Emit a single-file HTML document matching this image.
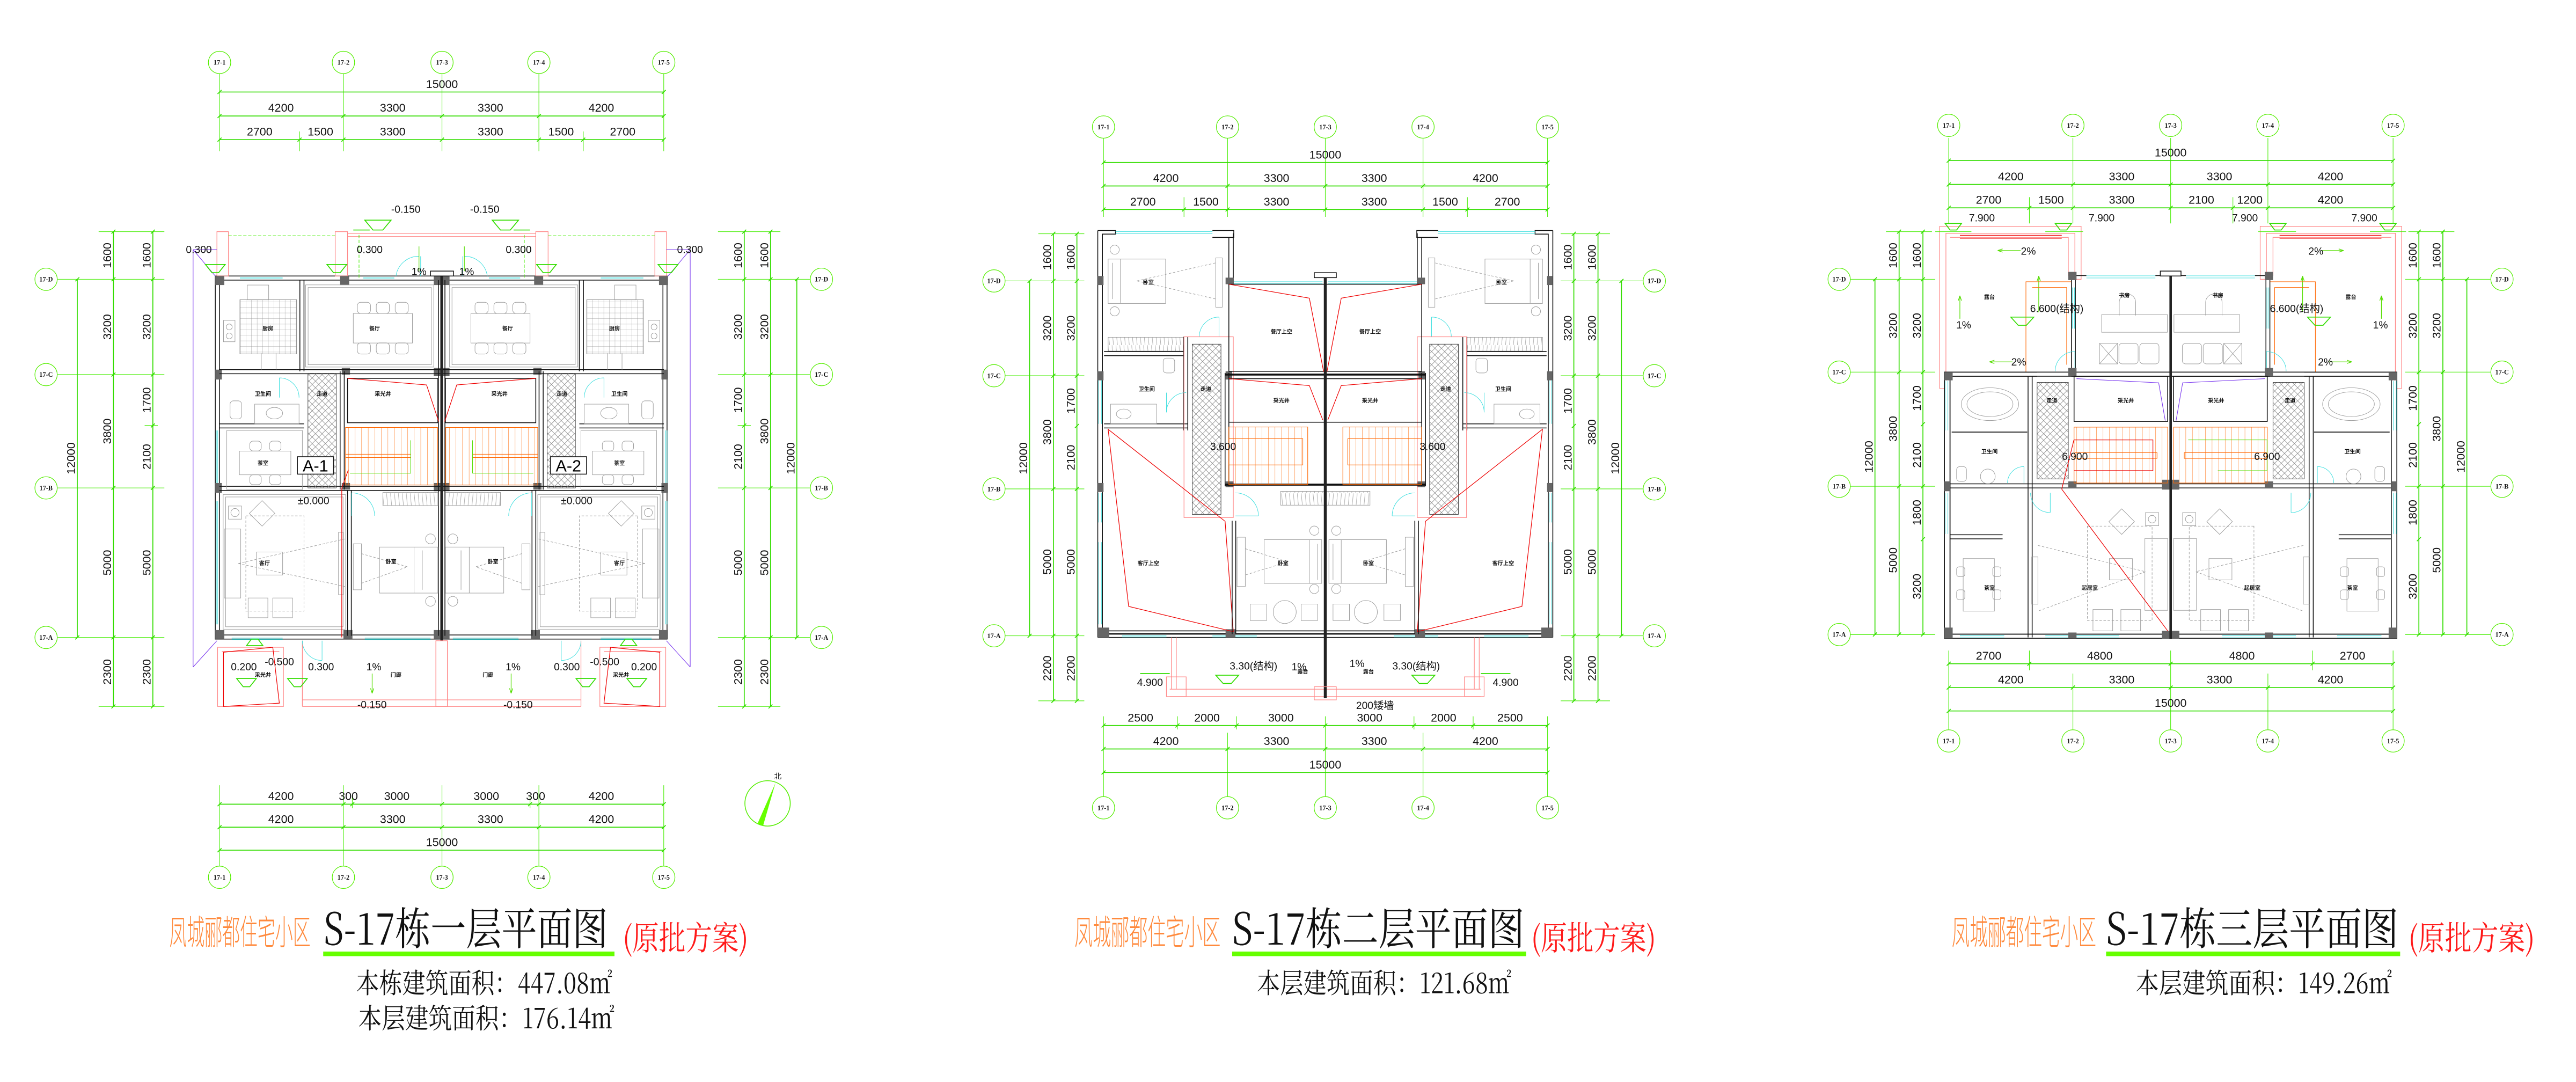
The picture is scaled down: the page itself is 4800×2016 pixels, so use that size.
<!DOCTYPE html>
<html><head><meta charset="utf-8"><style>
html,body{margin:0;padding:0;background:#fff}
svg{display:block}
.g{stroke:#44ee00;stroke-width:.35;fill:none}
.gd{stroke:#33dd00;stroke-width:.55;fill:none}
.bb{fill:#fff;stroke:#55ee00;stroke-width:.4}
.bt{font:bold 4px "Liberation Serif",serif;text-anchor:middle;fill:#111}
.d{font:7px "Liberation Sans Narrow","Liberation Sans",sans-serif;text-anchor:middle;fill:#111}
.e{font:6.3px "Liberation Sans Narrow","Liberation Sans",sans-serif;text-anchor:middle;fill:#111}
.w{stroke:#111;stroke-width:.5;fill:none}
.wf{stroke:#111;stroke-width:.5;fill:#fff}
.p{stroke:#f88;stroke-width:.4;fill:none}
.r{stroke:#e00;stroke-width:.4;fill:none}
.c{stroke:#3dd;stroke-width:.3;fill:none}
.f{stroke:#999;stroke-width:.3;fill:none}
.fd{stroke:#999;stroke-width:.3;fill:none;stroke-dasharray:1.5 1}
.o{stroke:#f60;stroke-width:.35;fill:none}
.pu{stroke:#7733ee;stroke-width:.35;fill:none}
.col{fill:#666}
.lb{font:bold 3.3px "Noto Sans CJK SC",sans-serif;text-anchor:middle;fill:#111}
</style></head><body>
<svg width="4800" height="2016" viewBox="0 0 1568 658.6" xmlns="http://www.w3.org/2000/svg">
<defs>
<pattern id="xh" width="4" height="4" patternUnits="userSpaceOnUse"><path d="M0 0L4 4M4 0L0 4" stroke="#777" stroke-width=".25"/></pattern>
<pattern id="tile" width="3.4" height="3.4" patternUnits="userSpaceOnUse"><path d="M0 0H3.4M0 0V3.4" stroke="#888" stroke-width=".25"/></pattern>
<pattern id="st" width="4" height="40" patternUnits="userSpaceOnUse"><path d="M0 0V40" stroke="#f60" stroke-width=".35"/></pattern>
<pattern id="wr" width="2.4" height="10" patternUnits="userSpaceOnUse"><path d="M0 0L1 10" stroke="#999" stroke-width=".25"/></pattern>
</defs>
<rect width="1568" height="658.6" fill="#fff"/>

<!-- ================= PLAN 1 ================= -->
<g>
<path class="g" d="M133.6 45V92M209 45V92M269 45V92M328 45V92M404 45V92M182.3 80V92M355 80V92"/>
<path class="gd" d="M133.6 56H404M133.6 70.6H404M133.6 85H404"/>
<path class="gd" d="M132.4 57.2l2.4-2.4M402.8 57.2l2.4-2.4M132.4 71.8l2.4-2.4M207.8 71.8l2.4-2.4M267.8 71.8l2.4-2.4M326.8 71.8l2.4-2.4M402.8 71.8l2.4-2.4M132.4 86.2l2.4-2.4M181.1 86.2l2.4-2.4M207.8 86.2l2.4-2.4M267.8 86.2l2.4-2.4M326.8 86.2l2.4-2.4M353.8 86.2l2.4-2.4M402.8 86.2l2.4-2.4"/>
<text class="d" x="269" y="53.5">15000</text>
<text class="d" x="171" y="68">4200</text><text class="d" x="239" y="68">3300</text><text class="d" x="298.5" y="68">3300</text><text class="d" x="366" y="68">4200</text>
<text class="d" x="158" y="82.5">2700</text><text class="d" x="195" y="82.5">1500</text><text class="d" x="239" y="82.5">3300</text><text class="d" x="298.5" y="82.5">3300</text><text class="d" x="341.5" y="82.5">1500</text><text class="d" x="379" y="82.5">2700</text>
<circle class="bb" cx="133.6" cy="38" r="6.8"/><text class="bt" x="133.6" y="39.4">17-1</text>
<circle class="bb" cx="209" cy="38" r="6.8"/><text class="bt" x="209" y="39.4">17-2</text>
<circle class="bb" cx="269" cy="38" r="6.8"/><text class="bt" x="269" y="39.4">17-3</text>
<circle class="bb" cx="328" cy="38" r="6.8"/><text class="bt" x="328" y="39.4">17-4</text>
<circle class="bb" cx="404" cy="38" r="6.8"/><text class="bt" x="404" y="39.4">17-5</text>
<path class="g" d="M133.6 478V527M209 478V527M269 478V527M328 478V527M404 478V527M214.4 484V492M322.6 484V492"/>
<path class="gd" d="M133.6 489.5H404M133.6 503.5H404M133.6 517.5H404"/>
<path class="gd" d="M132.4 490.7l2.4-2.4M207.8 490.7l2.4-2.4M213.2 490.7l2.4-2.4M267.8 490.7l2.4-2.4M321.4 490.7l2.4-2.4M326.8 490.7l2.4-2.4M402.8 490.7l2.4-2.4M132.4 504.7l2.4-2.4M207.8 504.7l2.4-2.4M267.8 504.7l2.4-2.4M326.8 504.7l2.4-2.4M402.8 504.7l2.4-2.4M132.4 518.7l2.4-2.4M402.8 518.7l2.4-2.4"/>
<text class="d" x="171" y="487">4200</text><text class="d" x="212" y="487">300</text><text class="d" x="241.5" y="487">3000</text><text class="d" x="296" y="487">3000</text><text class="d" x="326" y="487">300</text><text class="d" x="366" y="487">4200</text>
<text class="d" x="171" y="501">4200</text><text class="d" x="239" y="501">3300</text><text class="d" x="298.5" y="501">3300</text><text class="d" x="366" y="501">4200</text>
<text class="d" x="269" y="515">15000</text>
<circle class="bb" cx="133.6" cy="534" r="6.8"/><text class="bt" x="133.6" y="535.4">17-1</text>
<circle class="bb" cx="209" cy="534" r="6.8"/><text class="bt" x="209" y="535.4">17-2</text>
<circle class="bb" cx="269" cy="534" r="6.8"/><text class="bt" x="269" y="535.4">17-3</text>
<circle class="bb" cx="328" cy="534" r="6.8"/><text class="bt" x="328" y="535.4">17-4</text>
<circle class="bb" cx="404" cy="534" r="6.8"/><text class="bt" x="404" y="535.4">17-5</text>
<path class="g" d="M35 170H100M35 228H100M35 297H100M35 388H100M60 141H100M60 430H100M88 259H96"/>
<path class="gd" d="M47 170V388M69 141V430M93 141V430"/>
<path class="gd" d="M45.8 171.2l2.4-2.4M45.8 389.2l2.4-2.4M67.8 142.2l2.4-2.4M67.8 171.2l2.4-2.4M67.8 229.2l2.4-2.4M67.8 298.2l2.4-2.4M67.8 389.2l2.4-2.4M67.8 431.2l2.4-2.4M91.8 142.2l2.4-2.4M91.8 171.2l2.4-2.4M91.8 229.2l2.4-2.4M91.8 260.2l2.4-2.4M91.8 298.2l2.4-2.4M91.8 389.2l2.4-2.4M91.8 431.2l2.4-2.4"/>
<text class="d" transform="translate(45.6 279) rotate(-90)">12000</text>
<text class="d" transform="translate(67.6 155.5) rotate(-90)">1600</text><text class="d" transform="translate(67.6 199) rotate(-90)">3200</text><text class="d" transform="translate(67.6 262.5) rotate(-90)">3800</text><text class="d" transform="translate(67.6 342.5) rotate(-90)">5000</text><text class="d" transform="translate(67.6 409) rotate(-90)">2300</text>
<text class="d" transform="translate(91.6 155.5) rotate(-90)">1600</text><text class="d" transform="translate(91.6 199) rotate(-90)">3200</text><text class="d" transform="translate(91.6 243.5) rotate(-90)">1700</text><text class="d" transform="translate(91.6 278) rotate(-90)">2100</text><text class="d" transform="translate(91.6 342.5) rotate(-90)">5000</text><text class="d" transform="translate(91.6 409) rotate(-90)">2300</text>
<circle class="bb" cx="28" cy="170" r="6.8"/><text class="bt" x="28" y="171.4">17-D</text>
<circle class="bb" cx="28" cy="228" r="6.8"/><text class="bt" x="28" y="229.4">17-C</text>
<circle class="bb" cx="28" cy="297" r="6.8"/><text class="bt" x="28" y="298.4">17-B</text>
<circle class="bb" cx="28" cy="388" r="6.8"/><text class="bt" x="28" y="389.4">17-A</text>
<path class="g" d="M437 170H493M437 228H493M437 297H493M437 388H493M437 141H475M437 430H475M449 259H457"/>
<path class="gd" d="M453 141V430M469 141V430M485 170V388"/>
<path class="gd" d="M451.8 142.2l2.4-2.4M451.8 171.2l2.4-2.4M451.8 229.2l2.4-2.4M451.8 260.2l2.4-2.4M451.8 298.2l2.4-2.4M451.8 389.2l2.4-2.4M451.8 431.2l2.4-2.4M467.8 142.2l2.4-2.4M467.8 171.2l2.4-2.4M467.8 229.2l2.4-2.4M467.8 298.2l2.4-2.4M467.8 389.2l2.4-2.4M467.8 431.2l2.4-2.4M483.8 171.2l2.4-2.4M483.8 389.2l2.4-2.4"/>
<text class="d" transform="translate(451.6 155.5) rotate(-90)">1600</text><text class="d" transform="translate(451.6 199) rotate(-90)">3200</text><text class="d" transform="translate(451.6 243.5) rotate(-90)">1700</text><text class="d" transform="translate(451.6 278) rotate(-90)">2100</text><text class="d" transform="translate(451.6 342.5) rotate(-90)">5000</text><text class="d" transform="translate(451.6 409) rotate(-90)">2300</text>
<text class="d" transform="translate(467.6 155.5) rotate(-90)">1600</text><text class="d" transform="translate(467.6 199) rotate(-90)">3200</text><text class="d" transform="translate(467.6 262.5) rotate(-90)">3800</text><text class="d" transform="translate(467.6 342.5) rotate(-90)">5000</text><text class="d" transform="translate(467.6 409) rotate(-90)">2300</text>
<text class="d" transform="translate(483.6 279) rotate(-90)">12000</text>
<circle class="bb" cx="500" cy="170" r="6.8"/><text class="bt" x="500" y="171.4">17-D</text>
<circle class="bb" cx="500" cy="228" r="6.8"/><text class="bt" x="500" y="229.4">17-C</text>
<circle class="bb" cx="500" cy="297" r="6.8"/><text class="bt" x="500" y="298.4">17-B</text>
<circle class="bb" cx="500" cy="388" r="6.8"/><text class="bt" x="500" y="389.4">17-A</text>

<rect class="wf" x="131" y="168" width="275" height="221"/>
<rect class="w" x="133.5" y="170.5" width="270" height="216"/>
<g id="p1h">
<path class="p" d="M132 141h7v27h-7zM204 141h7.5v27h-7.5zM211.5 142H268.8M211.5 144H268.8"/>
<path class="g" stroke-dasharray="2 1" d="M139 143.5H204M218.5 143V170"/>
<path class="pu" d="M117.5 152H132M117.5 152L131 168M117.5 152V406M117.5 406L132 390"/>
<path class="gd" d="M125 161h12l-4 5h-4zM199 161h12l-4 5h-4zM222 134h16l-5 6h-6zM215 140h10"/>
<path class="c" d="M146 168.7H172M146 169.6H172M221 168.7H240M221 169.6H240M131.6 262V296M132.5 262V296M131.6 305V380M132.5 305V380M141 389.3H172M141 388.4H172M222 389.3H262M222 388.4H262"/>
<path class="c" d="M241 168A14 14 0 0 1 255 156M256 168V156"/>
<rect class="col" x="131" y="168" width="5.5" height="5.5"/><rect class="col" x="207" y="168" width="5.5" height="5.5"/><rect class="col" x="264" y="168" width="4.8" height="5.5"/>
<rect class="col" x="131" y="383.5" width="5.5" height="5.5"/><rect class="col" x="209" y="383.5" width="5.5" height="5.5"/><rect class="col" x="264" y="383.5" width="4.8" height="5.5"/>
<rect class="col" x="131" y="225" width="4" height="6"/><rect class="col" x="131" y="294" width="4" height="6"/><rect class="col" x="208" y="224" width="5" height="4"/><rect class="col" x="208" y="294" width="5" height="4"/><rect class="col" x="264" y="294" width="4.8" height="5"/><rect class="col" x="264" y="224" width="4.8" height="5"/>
<path class="w" d="M182.5 170.5V226M185 170.5V226M133.5 225H268M133.5 227.5H268M133.5 258H185M133.5 260.5H185M207 226V298M209.5 226V298M133.5 296H268M133.5 298.5H268M211.5 298.5V387M213.8 298.5V387M266.8 170.5V387"/>
<rect x="146" y="182.4" width="34.5" height="33" fill="url(#tile)" stroke="#888" stroke-width=".3"/>
<rect class="f" x="150.5" y="173.5" width="13" height="9"/><rect class="f" x="136" y="195" width="7" height="13"/><circle class="f" cx="139.5" cy="199" r="1.8"/><circle class="f" cx="139.5" cy="204.5" r="1.8"/>
<path class="f" d="M159 215V225M168 215V225"/>
<rect class="f" x="186" y="173.4" width="78" height="50"/><rect class="f" x="187.5" y="175" width="75" height="47"/>
<rect class="f" x="215" y="190.8" width="36" height="18"/>
<rect class="f" x="217.5" y="184" width="8" height="6.8" rx="2"/><rect class="f" x="229" y="184" width="8" height="6.8" rx="2"/><rect class="f" x="240.5" y="184" width="8" height="6.8" rx="2"/>
<rect class="f" x="217.5" y="208.7" width="8" height="6.8" rx="2"/><rect class="f" x="229" y="208.7" width="8" height="6.8" rx="2"/><rect class="f" x="240.5" y="208.7" width="8" height="6.8" rx="2"/>
<rect class="f" x="155" y="246" width="27" height="12"/><ellipse class="f" cx="167" cy="251.5" rx="5" ry="3.5"/><rect class="f" x="140" y="244" width="7" height="11" rx="2"/>
<path class="c" d="M170 230A12 12 0 0 1 182 242M170 230V242"/>
<rect x="187.4" y="227.3" width="17.2" height="69.7" fill="url(#xh)" stroke="#333" stroke-width=".3"/>
<rect class="w" x="211.5" y="230.3" width="55" height="27"/>
<path class="r" d="M211.5 230.3L259.6 234.3L267 256.6"/>
<rect x="210.3" y="260.2" width="56" height="35" fill="url(#st)" stroke="#f60" stroke-width=".35"/>
<path class="o" d="M210.3 276.5H250M210.3 278.5H250"/>
<path stroke="#5d0" stroke-width=".35" fill="none" d="M213 288H250V268"/>
<rect class="f" x="138" y="262" width="46" height="36"/><rect class="f" x="145.7" y="274.6" width="31.3" height="14.4"/>
<rect class="f" x="152" y="268.5" width="7" height="6" rx="2"/><rect class="f" x="164" y="268.5" width="7" height="6" rx="2"/><rect class="f" x="152" y="289" width="7" height="6" rx="2"/><rect class="f" x="164" y="289" width="7" height="6" rx="2"/>
<rect class="f" x="135.8" y="301" width="74.5" height="82"/><rect class="f" x="137.3" y="302.5" width="71.5" height="79"/>
<rect class="fd" x="149.6" y="314" width="35.4" height="58"/>
<rect class="f" x="136.5" y="322" width="10" height="42"/><rect class="f" x="156" y="336" width="16" height="14"/>
<rect class="f" x="151" y="364" width="12" height="12"/><rect class="f" x="166" y="364" width="12" height="12"/>
<rect class="f" x="154" y="307" width="11" height="11" transform="rotate(45 159.5 312.5)"/>
<rect class="f" x="139" y="308" width="8" height="8"/><circle class="f" cx="143" cy="312" r="2.5"/>
<path class="fd" d="M145 343L210 328M145 343L210 357"/>
<rect class="f" x="206" y="324" width="3" height="38"/>
<rect x="233" y="299.7" width="33.5" height="8" fill="url(#wr)" stroke="#999" stroke-width=".3"/>
<rect class="f" x="231" y="333" width="35.5" height="28"/><path class="f" d="M252 333V361M257 335V359"/>
<circle class="f" cx="262" cy="328" r="3"/><circle class="f" cx="262" cy="366" r="3"/>
<rect class="f" x="215" y="331" width="5" height="28"/><path class="fd" d="M220 337L248 345L220 355"/>
<path class="c" d="M214 300A14 14 0 0 1 228 314M214 314V300"/>
<path class="p" d="M132.4 394H172.5V430H132.4zM135 396.5H170M184 430H268.8M184 426H268.8M184 390V430M265.3 390V430"/>
<path class="r" d="M136 397L166 394L170 428L136 430z"/>
<path class="c" d="M184 390A12 12 0 0 0 196 402M196 390V402"/>
<path class="gd" d="M144 413h12l-4 5h-4zM175 413h12l-4 5h-4zM150 393h10l-3 -4h-4z"/>
<path stroke="#5d0" stroke-width=".4" d="M226.5 410V422M226.5 422l-1 -3M226.5 422l1 -3M255 165V150"/>
</g>
<use href="#p1h" transform="translate(537.6 0) scale(-1 1)"/>
<path class="r" d="M212 286L208 297V388"/>
<path stroke="#222" stroke-width="1.6" d="M268.8 168V390"/>
<rect class="wf" x="262" y="165" width="14" height="3"/>
<rect class="p" x="265.3" y="390" width="7" height="40"/>
<text class="e" x="247" y="129.5">-0.150</text><text class="e" x="295" y="129.5">-0.150</text>
<text class="e" x="121" y="154">0.300</text><text class="e" x="225" y="154">0.300</text><text class="e" x="315.7" y="154">0.300</text><text class="e" x="420" y="154">0.300</text>
<text class="e" x="255" y="167.5">1%</text><text class="e" x="284" y="167.5">1%</text>
<text class="e" x="190.8" y="307">±0.000</text><text class="e" x="351" y="307">±0.000</text>
<text class="e" x="148.4" y="408">0.200</text><text class="e" x="170" y="405">-0.500</text><text class="e" x="195.4" y="408">0.300</text>
<text class="e" x="345" y="408">0.300</text><text class="e" x="368" y="405">-0.500</text><text class="e" x="392" y="408">0.200</text>
<text class="e" x="227.5" y="408">1%</text><text class="e" x="312.3" y="408">1%</text>
<text class="e" x="226.4" y="431">-0.150</text><text class="e" x="315.3" y="431">-0.150</text>
<rect class="wf" x="181" y="278" width="22" height="10.6"/><text x="192" y="287" style="font:10px 'Liberation Sans Narrow','Liberation Sans',sans-serif;text-anchor:middle">A-1</text>
<rect class="wf" x="335" y="278" width="22" height="10.6"/><text x="346" y="287" style="font:10px 'Liberation Sans Narrow','Liberation Sans',sans-serif;text-anchor:middle">A-2</text>
<text class="lb" x="163" y="201">厨房</text><text class="lb" x="228" y="201">餐厅</text><text class="lb" x="309" y="201">餐厅</text><text class="lb" x="374" y="201">厨房</text>
<text class="lb" x="160" y="241">卫生间</text><text class="lb" x="196" y="241">走道</text><text class="lb" x="233" y="241">采光井</text><text class="lb" x="304" y="241">采光井</text><text class="lb" x="342" y="241">走道</text><text class="lb" x="377" y="241">卫生间</text>
<text class="lb" x="160" y="283">茶室</text><text class="lb" x="377" y="283">茶室</text>
<text class="lb" x="161" y="344">客厅</text><text class="lb" x="238" y="343">卧室</text><text class="lb" x="300" y="343">卧室</text><text class="lb" x="377" y="344">客厅</text>
<text class="lb" x="160" y="412">采光井</text><text class="lb" x="241" y="412">门廊</text><text class="lb" x="297" y="412">门廊</text><text class="lb" x="378" y="412">采光井</text>
<circle cx="467.2" cy="489" r="13.8" fill="none" stroke="#55ee00" stroke-width=".5"/>
<path d="M472 476.6L461 501.5L464.5 502.5z" fill="#66ff00"/>
<text x="473.4" y="474" style="font:4.5px 'Noto Sans CJK SC',sans-serif;text-anchor:middle">北</text>
</g>

<!-- ================= PLAN 2 ================= -->
<g>
<path class="g" d="M671.7 84V132M747.2 84V132M806.7 84V132M866.2 84V132M942 84V132M720.7 120V132M893.2 120V132"/>
<path class="gd" d="M671.7 98.9H942M671.7 113.2H942M671.7 127.5H942"/>
<path class="gd" d="M670.5 100.1l2.4-2.4M940.8 100.1l2.4-2.4M670.5 114.4l2.4-2.4M746 114.4l2.4-2.4M805.5 114.4l2.4-2.4M865 114.4l2.4-2.4M940.8 114.4l2.4-2.4M670.5 128.7l2.4-2.4M719.5 128.7l2.4-2.4M746 128.7l2.4-2.4M805.5 128.7l2.4-2.4M865 128.7l2.4-2.4M892 128.7l2.4-2.4M940.8 128.7l2.4-2.4"/>
<text class="d" x="806.7" y="96.5">15000</text>
<text class="d" x="709.7" y="110.8">4200</text><text class="d" x="777" y="110.8">3300</text><text class="d" x="836.5" y="110.8">3300</text><text class="d" x="904.2" y="110.8">4200</text>
<text class="d" x="695.7" y="125.1">2700</text><text class="d" x="734" y="125.1">1500</text><text class="d" x="777" y="125.1">3300</text><text class="d" x="836.5" y="125.1">3300</text><text class="d" x="879.7" y="125.1">1500</text><text class="d" x="917.5" y="125.1">2700</text>
<circle class="bb" cx="671.7" cy="77.3" r="6.8"/><text class="bt" x="671.7" y="78.7">17-1</text>
<circle class="bb" cx="747.2" cy="77.3" r="6.8"/><text class="bt" x="747.2" y="78.7">17-2</text>
<circle class="bb" cx="806.7" cy="77.3" r="6.8"/><text class="bt" x="806.7" y="78.7">17-3</text>
<circle class="bb" cx="866.2" cy="77.3" r="6.8"/><text class="bt" x="866.2" y="78.7">17-4</text>
<circle class="bb" cx="942" cy="77.3" r="6.8"/><text class="bt" x="942" y="78.7">17-5</text>
<path class="g" d="M671.7 436V485M747.2 446V485M806.7 436V485M866.2 446V485M942 436V485M716.7 436V444M752.7 436V444M860.7 436V444M896.7 436V444"/>
<path class="gd" d="M671.7 441.6H942M671.7 455.9H942M671.7 470.2H942"/>
<path class="gd" d="M670.5 442.8l2.4-2.4M715.5 442.8l2.4-2.4M751.5 442.8l2.4-2.4M805.5 442.8l2.4-2.4M859.5 442.8l2.4-2.4M895.5 442.8l2.4-2.4M940.8 442.8l2.4-2.4M670.5 457.1l2.4-2.4M746 457.1l2.4-2.4M805.5 457.1l2.4-2.4M865 457.1l2.4-2.4M940.8 457.1l2.4-2.4M670.5 471.4l2.4-2.4M940.8 471.4l2.4-2.4"/>
<text class="d" x="694.2" y="439.2">2500</text><text class="d" x="734.7" y="439.2">2000</text><text class="d" x="779.7" y="439.2">3000</text><text class="d" x="833.7" y="439.2">3000</text><text class="d" x="878.7" y="439.2">2000</text><text class="d" x="919.2" y="439.2">2500</text>
<text class="d" x="709.7" y="453.5">4200</text><text class="d" x="777" y="453.5">3300</text><text class="d" x="836.5" y="453.5">3300</text><text class="d" x="904.2" y="453.5">4200</text>
<text class="d" x="806.7" y="467.8">15000</text>
<circle class="bb" cx="671.7" cy="491.7" r="6.8"/><text class="bt" x="671.7" y="493.1">17-1</text>
<circle class="bb" cx="747.2" cy="491.7" r="6.8"/><text class="bt" x="747.2" y="493.1">17-2</text>
<circle class="bb" cx="806.7" cy="491.7" r="6.8"/><text class="bt" x="806.7" y="493.1">17-3</text>
<circle class="bb" cx="866.2" cy="491.7" r="6.8"/><text class="bt" x="866.2" y="493.1">17-4</text>
<circle class="bb" cx="942" cy="491.7" r="6.8"/><text class="bt" x="942" y="493.1">17-5</text>
<path class="g" d="M612 171H660M612 228.7H660M612 297.6H660M612 387H660M632 142.3H660M632 426.6H660"/>
<path class="gd" d="M626.7 171V387M641.2 142.3V426.6M655.5 142.3V426.6"/>
<path class="gd" d="M625.5 172.2l2.4-2.4M625.5 388.2l2.4-2.4M640 143.5l2.4-2.4M640 172.2l2.4-2.4M640 229.9l2.4-2.4M640 298.8l2.4-2.4M640 388.2l2.4-2.4M640 427.8l2.4-2.4M654.3 143.5l2.4-2.4M654.3 172.2l2.4-2.4M654.3 229.9l2.4-2.4M654.3 260.5l2.4-2.4M654.3 298.8l2.4-2.4M654.3 388.2l2.4-2.4M654.3 427.8l2.4-2.4"/>
<text class="d" transform="translate(625.3 279) rotate(-90)">12000</text>
<text class="d" transform="translate(639.8 156.6) rotate(-90)">1600</text><text class="d" transform="translate(639.8 199.8) rotate(-90)">3200</text><text class="d" transform="translate(639.8 263) rotate(-90)">3800</text><text class="d" transform="translate(639.8 342) rotate(-90)">5000</text><text class="d" transform="translate(639.8 406.8) rotate(-90)">2200</text>
<text class="d" transform="translate(654.1 156.6) rotate(-90)">1600</text><text class="d" transform="translate(654.1 199.8) rotate(-90)">3200</text><text class="d" transform="translate(654.1 244) rotate(-90)">1700</text><text class="d" transform="translate(654.1 278.5) rotate(-90)">2100</text><text class="d" transform="translate(654.1 342) rotate(-90)">5000</text><text class="d" transform="translate(654.1 406.8) rotate(-90)">2200</text>
<circle class="bb" cx="605" cy="171" r="6.8"/><text class="bt" x="605" y="172.4">17-D</text>
<circle class="bb" cx="605" cy="228.7" r="6.8"/><text class="bt" x="605" y="230.1">17-C</text>
<circle class="bb" cx="605" cy="297.6" r="6.8"/><text class="bt" x="605" y="299">17-B</text>
<circle class="bb" cx="605" cy="387" r="6.8"/><text class="bt" x="605" y="388.4">17-A</text>
<path class="g" d="M950 171H1000M950 228.7H1000M950 297.6H1000M950 387H1000M950 142.3H980M950 426.6H980"/>
<path class="gd" d="M958 142.3V426.6M972.7 142.3V426.6M987 171V387"/>
<path class="gd" d="M956.8 143.5l2.4-2.4M956.8 172.2l2.4-2.4M956.8 229.9l2.4-2.4M956.8 260.5l2.4-2.4M956.8 298.8l2.4-2.4M956.8 388.2l2.4-2.4M956.8 427.8l2.4-2.4M971.5 143.5l2.4-2.4M971.5 172.2l2.4-2.4M971.5 229.9l2.4-2.4M971.5 298.8l2.4-2.4M971.5 388.2l2.4-2.4M971.5 427.8l2.4-2.4M985.8 172.2l2.4-2.4M985.8 388.2l2.4-2.4"/>
<text class="d" transform="translate(956.6 156.6) rotate(-90)">1600</text><text class="d" transform="translate(956.6 199.8) rotate(-90)">3200</text><text class="d" transform="translate(956.6 244) rotate(-90)">1700</text><text class="d" transform="translate(956.6 278.5) rotate(-90)">2100</text><text class="d" transform="translate(956.6 342) rotate(-90)">5000</text><text class="d" transform="translate(956.6 406.8) rotate(-90)">2200</text>
<text class="d" transform="translate(971.3 156.6) rotate(-90)">1600</text><text class="d" transform="translate(971.3 199.8) rotate(-90)">3200</text><text class="d" transform="translate(971.3 263) rotate(-90)">3800</text><text class="d" transform="translate(971.3 342) rotate(-90)">5000</text><text class="d" transform="translate(971.3 406.8) rotate(-90)">2200</text>
<text class="d" transform="translate(985.6 279) rotate(-90)">12000</text>
<circle class="bb" cx="1007" cy="171" r="6.8"/><text class="bt" x="1007" y="172.4">17-D</text>
<circle class="bb" cx="1007" cy="228.7" r="6.8"/><text class="bt" x="1007" y="230.1">17-C</text>
<circle class="bb" cx="1007" cy="297.6" r="6.8"/><text class="bt" x="1007" y="299">17-B</text>
<circle class="bb" cx="1007" cy="387" r="6.8"/><text class="bt" x="1007" y="388.4">17-A</text>

<g id="p2h">
<path class="wf" d="M668.2 140.3H679V142.5H671V386H807V384H671"/>
<path class="w" d="M668.2 140.3V388M671 142.5V386M668.2 388H807M671 385.5H807M750.7 142V171M748 144.5V171M738 140.3H751V144.5H738"/>
<path class="c" d="M679 141H738M679 142.3H738M668.8 226V258M670.4 226V258M668.8 300V318M670.4 300V318M668.8 330V380M670.4 330V380M683 386.7H710M683 387.7H710M738 386.7H765M738 387.7H765M751 171.5H805M751 172.5H805"/>
<rect class="col" x="668.2" y="168" width="3.5" height="5.5"/><rect class="col" x="668.2" y="226" width="3.5" height="5.5"/><rect class="col" x="668.2" y="294" width="3.5" height="5.5"/><rect class="col" x="668.2" y="382" width="7" height="6"/><rect class="col" x="746" y="169" width="5" height="4"/><rect class="col" x="746" y="226" width="4" height="5"/><rect class="col" x="746" y="293" width="5" height="3.5"/><rect class="col" x="746" y="383" width="6" height="5"/>
<rect class="f" x="674.5" y="157.7" width="35" height="27"/><path class="f" d="M682 157.7V184.3M677 160V182"/>
<circle class="f" cx="678.5" cy="152" r="2.8"/><circle class="f" cx="678.5" cy="189.5" r="2.8"/>
<rect class="f" x="740" y="157" width="4" height="30"/><path class="fd" d="M692 171L740 160M692 171L740 182"/>
<rect x="674.5" y="205.3" width="46" height="8.4" fill="url(#wr)" stroke="#999" stroke-width=".3"/>
<path class="w" d="M672 214H720.5M672 216.5H720.5M720.5 205V262M723 205V262M672 258H723M672 260.5H723M745.7 227V296M748 227V296"/>
<path class="c" d="M730 205A12 12 0 0 1 742 193M742 205V193M722 239A12 12 0 0 0 710 251M710 239V251"/>
<rect class="f" x="676" y="246" width="28" height="12"/><ellipse class="f" cx="684" cy="252" rx="4.5" ry="3"/><rect class="f" x="708" y="218" width="7" height="9" rx="2"/>
<rect class="p" x="720.7" y="205" width="30" height="110"/>
<rect x="725.7" y="209.5" width="17.5" height="103.6" fill="url(#xh)" stroke="#333" stroke-width=".3"/>
<rect class="w" x="748" y="173" width="59" height="53"/>
<path class="r" d="M748 173L797 181.5L805.7 226.3"/>
<rect class="w" x="748" y="230.5" width="59" height="26.5"/>
<path class="r" d="M748 230.5L797 234.7L805.2 255.7"/>
<path stroke="#111" stroke-width="1.2" d="M745.7 228H807M745.7 295H807"/>
<rect x="748" y="259.9" width="48" height="35" fill="url(#st)" stroke="#f60" stroke-width=".35"/>
<rect class="o" x="748" y="267" width="45" height="16"/>
<rect x="779.5" y="299.1" width="27" height="8.4" fill="url(#wr)" stroke="#999" stroke-width=".3"/>
<path class="c" d="M752 300A14 14 0 0 1 766 314M752 314H766"/>
<path class="r" d="M674.5 261.3L745.7 317.3L750.7 384.5L687 369.1z"/>
<path class="w" d="M750 317V386M752.2 317V386"/>
<rect class="f" x="769.5" y="328.5" width="35" height="26.6"/><path class="f" d="M797 328.5V355M802 331V353"/>
<circle class="f" cx="800" cy="323" r="2.8"/><circle class="f" cx="800" cy="358.5" r="2.8"/>
<rect class="f" x="753" y="327" width="5" height="30"/><path class="fd" d="M758 334L784 342L758 350"/>
<rect class="f" x="761" y="367.7" width="10" height="10"/><circle class="f" cx="782" cy="372.5" r="7"/><rect class="f" x="792" y="367.7" width="10" height="10"/>
<path class="p" d="M712 419.5H807M712 424H807M713 388V419.5M716 388V419.5"/>
<rect class="p" x="710" y="412" width="12" height="12"/>
<path class="gd" d="M740 411h14l-4.5 5h-5z"/>
<path class="gd" d="M694 410H712"/>
</g>
<use href="#p2h" transform="translate(1613.4 0) scale(-1 1)"/>
<path stroke="#222" stroke-width="1.8" d="M806.7 168V425"/>
<rect class="wf" x="800" y="166" width="13.4" height="3"/>
<rect class="p" x="800" y="418" width="13.4" height="8"/>
<text class="e" x="744.5" y="274">3.600</text><text class="e" x="872" y="274">3.600</text>
<text class="e" x="700" y="417.5">4.900</text><text class="e" x="916.5" y="417.5">4.900</text>
<text class="e" x="763" y="407.5">3.30(结构)</text><text class="e" x="862" y="407.5">3.30(结构)</text>
<text class="e" x="790.7" y="408">1%</text><text class="e" x="826" y="406">1%</text>
<text class="e" x="837" y="431.5">200矮墙</text>
<text class="lb" x="699" y="173">卧室</text><text class="lb" x="914" y="173">卧室</text>
<text class="lb" x="780" y="203">餐厅上空</text><text class="lb" x="834" y="203">餐厅上空</text>
<text class="lb" x="698" y="238">卫生间</text><text class="lb" x="915" y="238">卫生间</text>
<text class="lb" x="734" y="238">走道</text><text class="lb" x="880" y="238">走道</text>
<text class="lb" x="780" y="245">采光井</text><text class="lb" x="834" y="245">采光井</text>
<text class="lb" x="699" y="344">客厅上空</text><text class="lb" x="915" y="344">客厅上空</text>
<text class="lb" x="781" y="344">卧室</text><text class="lb" x="833" y="344">卧室</text>
<text class="lb" x="793" y="410">露台</text><text class="lb" x="833" y="410">露台</text>
</g>

<!-- ================= PLAN 3 ================= -->
<g>
<path class="g" d="M1186.2 84V136M1261.8 84V136M1321.3 84V136M1380.5 84V136M1456.7 84V136M1235.3 120V136M1359.2 120V136"/>
<path class="gd" d="M1186.2 97.75H1456.7M1186.2 112.25H1456.7M1186.2 126.5H1456.7"/>
<path class="gd" d="M1185 99l2.4-2.4M1455.5 99l2.4-2.4M1185 113.5l2.4-2.4M1260.6 113.5l2.4-2.4M1320.1 113.5l2.4-2.4M1379.3 113.5l2.4-2.4M1455.5 113.5l2.4-2.4M1185 127.7l2.4-2.4M1234.1 127.7l2.4-2.4M1260.6 127.7l2.4-2.4M1320.1 127.7l2.4-2.4M1358 127.7l2.4-2.4M1379.3 127.7l2.4-2.4M1455.5 127.7l2.4-2.4"/>
<text class="d" x="1321.3" y="95.3">15000</text>
<text class="d" x="1224" y="109.8">4200</text><text class="d" x="1291.5" y="109.8">3300</text><text class="d" x="1351" y="109.8">3300</text><text class="d" x="1418.6" y="109.8">4200</text>
<text class="d" x="1210.5" y="124">2700</text><text class="d" x="1248.5" y="124">1500</text><text class="d" x="1291.5" y="124">3300</text><text class="d" x="1340" y="124">2100</text><text class="d" x="1369.5" y="124">1200</text><text class="d" x="1418.6" y="124">4200</text>
<text class="e" x="1206.4" y="134.8">7.900</text><text class="e" x="1279.3" y="134.8">7.900</text><text class="e" x="1366.5" y="134.8">7.900</text><text class="e" x="1439.2" y="134.8">7.900</text>
<circle class="bb" cx="1186.2" cy="76.3" r="6.8"/><text class="bt" x="1186.2" y="77.7">17-1</text>
<circle class="bb" cx="1261.8" cy="76.3" r="6.8"/><text class="bt" x="1261.8" y="77.7">17-2</text>
<circle class="bb" cx="1321.3" cy="76.3" r="6.8"/><text class="bt" x="1321.3" y="77.7">17-3</text>
<circle class="bb" cx="1380.5" cy="76.3" r="6.8"/><text class="bt" x="1380.5" y="77.7">17-4</text>
<circle class="bb" cx="1456.7" cy="76.3" r="6.8"/><text class="bt" x="1456.7" y="77.7">17-5</text>
<path class="g" d="M1186.2 396V444M1261.8 410V444M1321.3 396V444M1380.5 410V444M1456.7 396V444M1235.3 396V408M1407.7 396V408"/>
<path class="gd" d="M1186.2 404H1456.7M1186.2 418.5H1456.7M1186.2 432.75H1456.7"/>
<path class="gd" d="M1185 405.2l2.4-2.4M1234.1 405.2l2.4-2.4M1320.1 405.2l2.4-2.4M1406.5 405.2l2.4-2.4M1455.5 405.2l2.4-2.4M1185 419.7l2.4-2.4M1260.6 419.7l2.4-2.4M1320.1 419.7l2.4-2.4M1379.3 419.7l2.4-2.4M1455.5 419.7l2.4-2.4M1185 434l2.4-2.4M1455.5 434l2.4-2.4"/>
<text class="d" x="1210.5" y="401.5">2700</text><text class="d" x="1278.2" y="401.5">4800</text><text class="d" x="1364.7" y="401.5">4800</text><text class="d" x="1432" y="401.5">2700</text>
<text class="d" x="1224" y="416">4200</text><text class="d" x="1291.5" y="416">3300</text><text class="d" x="1351" y="416">3300</text><text class="d" x="1418.6" y="416">4200</text>
<text class="d" x="1321.3" y="430.3">15000</text>
<circle class="bb" cx="1186.2" cy="451" r="6.8"/><text class="bt" x="1186.2" y="452.4">17-1</text>
<circle class="bb" cx="1261.8" cy="451" r="6.8"/><text class="bt" x="1261.8" y="452.4">17-2</text>
<circle class="bb" cx="1321.3" cy="451" r="6.8"/><text class="bt" x="1321.3" y="452.4">17-3</text>
<circle class="bb" cx="1380.5" cy="451" r="6.8"/><text class="bt" x="1380.5" y="452.4">17-4</text>
<circle class="bb" cx="1456.7" cy="451" r="6.8"/><text class="bt" x="1456.7" y="452.4">17-5</text>
<path class="g" d="M1126.3 170H1178M1126.3 226.5H1178M1126.3 296H1178M1126.3 386.25H1178M1148 141H1176"/>
<path class="gd" d="M1141.3 170V386.25M1156 141V386.25M1170.5 141V386.25"/>
<path class="gd" d="M1140.1 171.2l2.4-2.4M1140.1 387.4l2.4-2.4M1154.8 142.2l2.4-2.4M1154.8 171.2l2.4-2.4M1154.8 227.7l2.4-2.4M1154.8 297.2l2.4-2.4M1154.8 387.4l2.4-2.4M1169.3 142.2l2.4-2.4M1169.3 171.2l2.4-2.4M1169.3 227.7l2.4-2.4M1169.3 259.4l2.4-2.4M1169.3 297.2l2.4-2.4M1169.3 329.4l2.4-2.4M1169.3 387.4l2.4-2.4"/>
<text class="d" transform="translate(1139.9 278) rotate(-90)">12000</text>
<text class="d" transform="translate(1154.6 155.5) rotate(-90)">1600</text><text class="d" transform="translate(1154.6 198.25) rotate(-90)">3200</text><text class="d" transform="translate(1154.6 261) rotate(-90)">3800</text><text class="d" transform="translate(1154.6 341) rotate(-90)">5000</text>
<text class="d" transform="translate(1169.1 155.5) rotate(-90)">1600</text><text class="d" transform="translate(1169.1 198.25) rotate(-90)">3200</text><text class="d" transform="translate(1169.1 242.4) rotate(-90)">1700</text><text class="d" transform="translate(1169.1 277) rotate(-90)">2100</text><text class="d" transform="translate(1169.1 312) rotate(-90)">1800</text><text class="d" transform="translate(1169.1 357) rotate(-90)">3200</text>
<circle class="bb" cx="1119.5" cy="170" r="6.8"/><text class="bt" x="1119.5" y="171.4">17-D</text>
<circle class="bb" cx="1119.5" cy="226.5" r="6.8"/><text class="bt" x="1119.5" y="227.9">17-C</text>
<circle class="bb" cx="1119.5" cy="296" r="6.8"/><text class="bt" x="1119.5" y="297.4">17-B</text>
<circle class="bb" cx="1119.5" cy="386.25" r="6.8"/><text class="bt" x="1119.5" y="387.65">17-A</text>
<path class="g" d="M1464 170H1516M1464 226.5H1516M1464 296H1516M1464 386.25H1516M1466 141H1494"/>
<path class="gd" d="M1472.4 141V386.25M1487 141V386.25M1501.6 170V386.25"/>
<path class="gd" d="M1471.2 142.2l2.4-2.4M1471.2 171.2l2.4-2.4M1471.2 227.7l2.4-2.4M1471.2 259.4l2.4-2.4M1471.2 297.2l2.4-2.4M1471.2 329.4l2.4-2.4M1471.2 387.4l2.4-2.4M1485.8 142.2l2.4-2.4M1485.8 171.2l2.4-2.4M1485.8 227.7l2.4-2.4M1485.8 297.2l2.4-2.4M1485.8 387.4l2.4-2.4M1500.4 171.2l2.4-2.4M1500.4 387.4l2.4-2.4"/>
<text class="d" transform="translate(1471 155.5) rotate(-90)">1600</text><text class="d" transform="translate(1471 198.25) rotate(-90)">3200</text><text class="d" transform="translate(1471 242.4) rotate(-90)">1700</text><text class="d" transform="translate(1471 277) rotate(-90)">2100</text><text class="d" transform="translate(1471 312) rotate(-90)">1800</text><text class="d" transform="translate(1471 357) rotate(-90)">3200</text>
<text class="d" transform="translate(1485.6 155.5) rotate(-90)">1600</text><text class="d" transform="translate(1485.6 198.25) rotate(-90)">3200</text><text class="d" transform="translate(1485.6 261) rotate(-90)">3800</text><text class="d" transform="translate(1485.6 341) rotate(-90)">5000</text>
<text class="d" transform="translate(1500.2 278) rotate(-90)">12000</text>
<circle class="bb" cx="1523" cy="170" r="6.8"/><text class="bt" x="1523" y="171.4">17-D</text>
<circle class="bb" cx="1523" cy="226.5" r="6.8"/><text class="bt" x="1523" y="227.9">17-C</text>
<circle class="bb" cx="1523" cy="296" r="6.8"/><text class="bt" x="1523" y="297.4">17-B</text>
<circle class="bb" cx="1523" cy="386.25" r="6.8"/><text class="bt" x="1523" y="387.65">17-A</text>

<g id="p3h">
<path class="p" d="M1180.7 137.75H1266.8V170H1263V142H1184.5V236.5H1180.7z"/>
<path class="p" d="M1187 144.5H1259V168"/>
<path class="r" d="M1193 143.2H1255M1193 145H1255"/>
<path class="gd" d="M1184 136h10l-3 4h-4zM1251 136h10l-3 4h-4z"/>
<path class="g" d="M1178 141H1200M1245 141H1268"/>
<path stroke="#5d0" stroke-width=".4" fill="none" d="M1230 152.5H1216M1216 152.5l3-1M1216 152.5l3 1M1225 220.25H1211M1211 220.25l3-1M1211 220.25l3 1M1193 194V180M1193 180l-1 3M1193 180l1 3M1241 190V168M1241 168l-1 3M1241 168l1 3"/>
<rect class="o" x="1233.2" y="171.5" width="27.7" height="55"/>
<path class="o" d="M1237 175H1258V222"/>
<path class="gd" d="M1224 193h14l-4.5 5h-5z"/>
<path class="w" d="M1260.9 167.75V226.5M1263.3 167.75V226.5M1260.9 167.75H1270M1312 167.75H1321.3"/>
<path class="c" d="M1270 167.9H1312M1270 169.2H1312M1261.5 175V200M1262.7 175V200"/>
<rect class="col" x="1259" y="165.5" width="5" height="5"/>
<rect class="f" x="1279.3" y="191.5" width="40" height="10.75"/><path class="f" d="M1290 192V184A5 5 0 0 1 1300 184V192"/>
<rect class="f" x="1289.8" y="209" width="11.7" height="12.5" rx="2"/><rect class="f" x="1302.5" y="209" width="11.7" height="12.5" rx="2"/>
<rect class="f" x="1278" y="209" width="11" height="12.5"/><path class="f" d="M1278 209L1289 221.5M1289 209L1278 221.5"/>
<path class="c" d="M1251 226A12 12 0 0 1 1263 214M1263 226V214"/>
<path class="wf" d="M1183.6 226.5H1321.3V229H1187V386H1321.3V388.5H1183.6z"/>
<path class="w" d="M1183.6 226.5V388.5M1187 229V386M1183.6 388.5H1321.3M1187 386H1321.3M1183.6 226.5H1240M1187 229H1240M1260.9 229H1321M1187 294.5H1321M1187 297H1321M1234.5 229V388M1237 229V388M1188 263H1234M1187 325.5H1219M1187 328H1219"/>
<path class="c" d="M1184 232V262M1185.7 232V262M1184 300V325M1185.7 300V325M1193 387H1220M1193 388.2H1220M1245 387H1290M1245 388.2H1290"/>
<rect class="col" x="1183.6" y="226.5" width="5" height="5"/><rect class="col" x="1183.6" y="293" width="3.5" height="6"/><rect class="col" x="1183.6" y="382" width="5" height="6.5"/><rect class="col" x="1259" y="224" width="5" height="5"/><rect class="col" x="1259" y="293" width="5" height="4"/><rect class="col" x="1259" y="385" width="5" height="3.5"/><rect class="col" x="1316" y="292" width="5.3" height="6"/><rect class="col" x="1316" y="384" width="5.3" height="5"/>
<ellipse class="f" cx="1211.3" cy="246" rx="17.5" ry="10"/><ellipse class="f" cx="1211.3" cy="246" rx="14" ry="7.5"/>
<rect class="f" x="1191" y="284" width="6" height="9" rx="2"/><circle class="f" cx="1210" cy="290" r="4.5"/>
<path class="c" d="M1232 284A10 10 0 0 0 1222 294M1232 284V294M1236 300A12 12 0 0 0 1248 312M1248 300V312"/>
<rect x="1240" y="232.75" width="19" height="58.75" fill="url(#xh)" stroke="#333" stroke-width=".3"/>
<rect class="w" x="1262.5" y="229" width="57" height="27.5"/>
<path class="pu" d="M1264 230.5L1314 233L1318 256"/>
<rect x="1262.5" y="260" width="57" height="34" fill="url(#st)" stroke="#f60" stroke-width=".35"/>
<rect class="o" x="1263" y="275.5" width="50" height="3.5"/>
<rect class="f" x="1195" y="340" width="19" height="32"/>
<rect class="f" x="1191" y="345" width="5" height="6" rx="1.5"/><rect class="f" x="1191" y="359" width="5" height="6" rx="1.5"/><rect class="f" x="1213" y="345" width="5" height="6" rx="1.5"/><rect class="f" x="1213" y="359" width="5" height="6" rx="1.5"/>
<rect class="fd" x="1270.6" y="320.25" width="39.4" height="57.5"/>
<rect class="f" x="1305.6" y="327.75" width="13.9" height="43.75"/>
<rect class="f" x="1274" y="371" width="12" height="13"/><rect class="f" x="1291" y="371" width="12" height="13"/>
<rect class="f" x="1284" y="340" width="14" height="13"/>
<rect class="f" x="1286" y="312" width="11" height="11" transform="rotate(45 1291.5 317.5)"/>
<rect class="f" x="1306" y="312" width="8" height="8"/><circle class="f" cx="1310" cy="316" r="2.3"/>
<rect class="f" x="1236.7" y="339" width="3.8" height="28.75"/><path class="fd" d="M1240.5 332L1306 348L1240.5 372"/>
</g>
<use href="#p3h" transform="translate(2642.6 0) scale(-1 1)"/>
<path class="r" d="M1262.4 267.75H1310.5V286.5H1262.4M1255 297.75L1262.4 267.75M1255 297.75L1319.5 384"/>
<path stroke="#5d0" stroke-width=".35" fill="none" d="M1332 267.75H1380V286.5H1350"/>
<path stroke="#222" stroke-width="1.5" d="M1321.3 166V389"/>
<rect class="wf" x="1315" y="165" width="12.6" height="3"/>
<text class="e" x="1252" y="190">6.600(结构)</text><text class="e" x="1398" y="190">6.600(结构)</text>
<text class="e" x="1234.7" y="155">2%</text><text class="e" x="1228.8" y="222.5">2%</text><text class="e" x="1409.7" y="155">2%</text><text class="e" x="1415.5" y="222.5">2%</text>
<text class="e" x="1195.3" y="200">1%</text><text class="e" x="1449" y="200">1%</text>
<text class="e" x="1263" y="280">6.900</text><text class="e" x="1380" y="280">6.900</text>
<text class="lb" x="1211" y="182">露台</text><text class="lb" x="1431" y="182">露台</text>
<text class="lb" x="1293" y="181">书房</text><text class="lb" x="1350" y="181">书房</text>
<text class="lb" x="1249" y="245">走道</text><text class="lb" x="1394" y="245">走道</text>
<text class="lb" x="1294" y="245">采光井</text><text class="lb" x="1349" y="245">采光井</text>
<text class="lb" x="1211" y="276">卫生间</text><text class="lb" x="1432" y="276">卫生间</text>
<text class="lb" x="1211" y="359">茶室</text><text class="lb" x="1432" y="359">茶室</text>
<text class="lb" x="1272" y="359">起居室</text><text class="lb" x="1371" y="359">起居室</text>
</g>

<!-- ================= TITLES ================= -->
<g style="font-family:'Noto Serif CJK SC',serif">
<text x="103" y="575" font-size="21" fill="#ff8a3d" textLength="86" lengthAdjust="spacingAndGlyphs" style="font-family:'Noto Sans CJK SC',sans-serif;font-weight:300">凤城郦都住宅小区</text>
<text x="197" y="575" font-size="27" fill="#111" textLength="173" lengthAdjust="spacingAndGlyphs">S-17栋一层平面图</text>
<rect x="196.7" y="579.2" width="177.3" height="2.8" fill="#66ff00"/>
<text x="379" y="578" font-size="20" fill="#ff1a1a" textLength="76.5" lengthAdjust="spacingAndGlyphs">(原批方案)</text>
<text x="216.7" y="604.5" font-size="17" fill="#111" textLength="156" lengthAdjust="spacingAndGlyphs">本栋建筑面积：447.08㎡</text>
<text x="218" y="626" font-size="17" fill="#111" textLength="156" lengthAdjust="spacingAndGlyphs">本层建筑面积：176.14㎡</text>

<text x="654" y="575" font-size="21" fill="#ff8a3d" textLength="89" lengthAdjust="spacingAndGlyphs" style="font-family:'Noto Sans CJK SC',sans-serif;font-weight:300">凤城郦都住宅小区</text>
<text x="750" y="575" font-size="27" fill="#111" textLength="178" lengthAdjust="spacingAndGlyphs">S-17栋二层平面图</text>
<rect x="750" y="579.2" width="179" height="2.8" fill="#66ff00"/>
<text x="932" y="578" font-size="20" fill="#ff1a1a" textLength="76" lengthAdjust="spacingAndGlyphs">(原批方案)</text>
<text x="765" y="604.5" font-size="17" fill="#111" textLength="155" lengthAdjust="spacingAndGlyphs">本层建筑面积：121.68㎡</text>

<text x="1188" y="575" font-size="21" fill="#ff8a3d" textLength="88" lengthAdjust="spacingAndGlyphs" style="font-family:'Noto Sans CJK SC',sans-serif;font-weight:300">凤城郦都住宅小区</text>
<text x="1282" y="575" font-size="27" fill="#111" textLength="178" lengthAdjust="spacingAndGlyphs">S-17栋三层平面图</text>
<rect x="1282" y="579.2" width="179" height="2.8" fill="#66ff00"/>
<text x="1466" y="578" font-size="20" fill="#ff1a1a" textLength="77" lengthAdjust="spacingAndGlyphs">(原批方案)</text>
<text x="1300" y="604.5" font-size="17" fill="#111" textLength="156" lengthAdjust="spacingAndGlyphs">本层建筑面积：149.26㎡</text>
</g>
</svg>
</body></html>
